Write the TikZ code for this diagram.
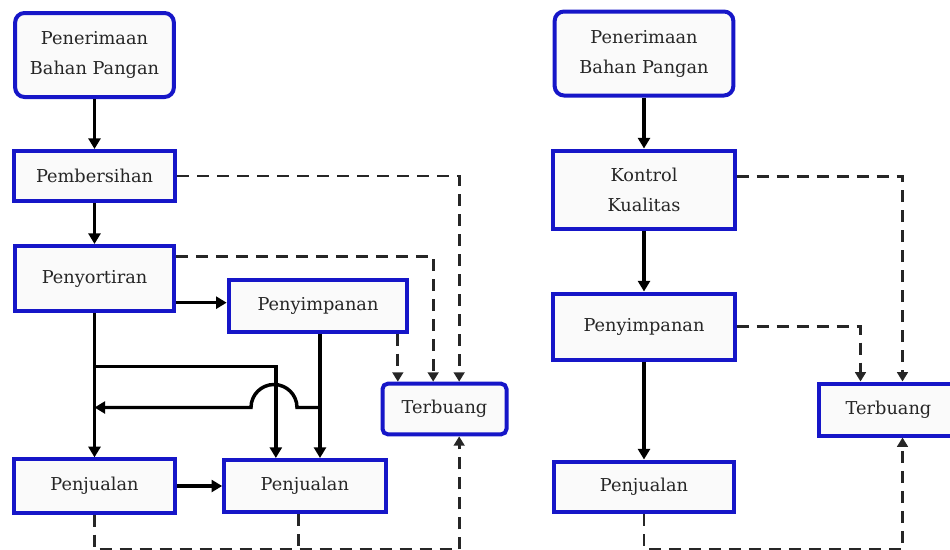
\documentclass[tikz,border=0pt]{standalone}
\usepackage{fontspec}
\setmainfont{DejaVu Serif}
\usepackage{tikz}
\usetikzlibrary{positioning,arrows.meta}

\definecolor{boxblue}{RGB}{22,22,200}

\tikzset{
  box/.style={draw=boxblue, line width=3pt, fill=black!2, text=black!85,
    align=center, inner sep=2pt, font=\fontsize{13.3}{22.5}\selectfont},
  flow/.style={line width=2.6pt, -{Triangle[length=8pt,width=9pt]}},
  wasteline/.style={line width=2.2pt, dash pattern=on 9pt off 6pt, black!85},
  waste/.style={wasteline, -{Triangle[length=7pt,width=8pt]}},
}

\begin{document}
\begin{tikzpicture}[x=0.75pt, y=-0.75pt]
    \useasboundingbox (0,0) rectangle (950,550);

    % left
    \node [box, rounded corners=7pt, minimum width=119pt, minimum height=63pt] (pen1) at (94.5,55) {Penerimaan\\Bahan Pangan};
    \node [box, below=37.5pt of pen1, minimum width=121pt, minimum height=37.5pt] (ber1) {Pembersihan};
    \node [box, below=30.75pt of ber1, minimum width=119pt, minimum height=49pt] (sor1) {Penyortiran};
    \node [box, minimum width=134pt, minimum height=39pt] (sim1) at (318,305.5) {Penyimpanan};
    \node [box, rounded corners=4pt, minimum width=93pt, minimum height=38pt] (ter1) at (444.5,409) {Terbuang};
    \node [box, below=108pt of sor1, minimum width=121pt, minimum height=40pt] (jual1) {Penjualan};
    \node [box, right=33.75pt of jual1, minimum width=121pt, minimum height=39pt] (jual2) {Penjualan};

    \draw [flow] (pen1) -- (ber1);
    \draw [flow] (ber1) -- (sor1);
    \draw [flow] (sor1) -- (jual1);
    \draw [flow] ([yshift=-18pt]sor1.east) -- ([yshift=-18pt]sor1.east -| sim1.west);
    \coordinate (br1) at ([yshift=-39.75pt]sor1.south);
    \draw [flow] (br1) -| ([xshift=-21.75pt]jual2.north);
    \draw [flow] ([xshift=1.5pt]sim1.south) -- ([xshift=1.5pt]sim1.south |- jual2.north);
    \coordinate (hp) at ([xshift=1.5pt,yshift=-55.5pt]sim1.south);
    \draw [flow] (hp) -- ++(-23,0) arc [start angle=0, end angle=180, radius=17.25pt] -- (hp -| sor1.south);
    \draw [flow] (jual1) -- (jual2);

    \draw [waste] (ber1.east) -| ([xshift=11pt]ter1.north);
    \draw [waste] ([yshift=16.5pt]sor1.east) -| ([xshift=-8.5pt]ter1.north);
    \draw [waste] ([xshift=-35pt]ter1.north |- sim1.south) -- ([xshift=-35pt]ter1.north);
    \draw [waste] (jual1.south) -- ++(0,35) -| ([xshift=11pt]ter1.south);
    \draw [wasteline] ([xshift=-5pt]jual2.south) -- ++(0,34);

    % right
    \node [box, rounded corners=7pt, minimum width=134pt, minimum height=63pt] (pen2) at (644,53.5) {Penerimaan\\Bahan Pangan};
    \node [box, below=38.25pt of pen2, minimum width=136pt, minimum height=58.5pt] (kon2) {Kontrol\\Kualitas};
    \node [box, below=45.75pt of kon2, minimum width=136pt, minimum height=49.5pt] (sim2) {Penyimpanan};
    \node [box, below=73.5pt of sim2, minimum width=135pt, minimum height=38pt] (jual3) {Penjualan};
    \node [box, minimum width=104pt, minimum height=39pt] (ter2) at (888.5,409.5) {Terbuang};

    \draw [flow] (pen2) -- (kon2);
    \draw [flow] (kon2) -- (sim2);
    \draw [flow] (sim2) -- (jual3);

    \draw [waste] ([yshift=10pt]kon2.east) -| ([xshift=10.5pt]ter2.north);
    \draw [waste] (sim2.east) -| ([xshift=-21pt]ter2.north);
    \draw [waste] (jual3.south) -- ++(0,35) -| ([xshift=10.5pt]ter2.south);
\end{tikzpicture}
\end{document}
